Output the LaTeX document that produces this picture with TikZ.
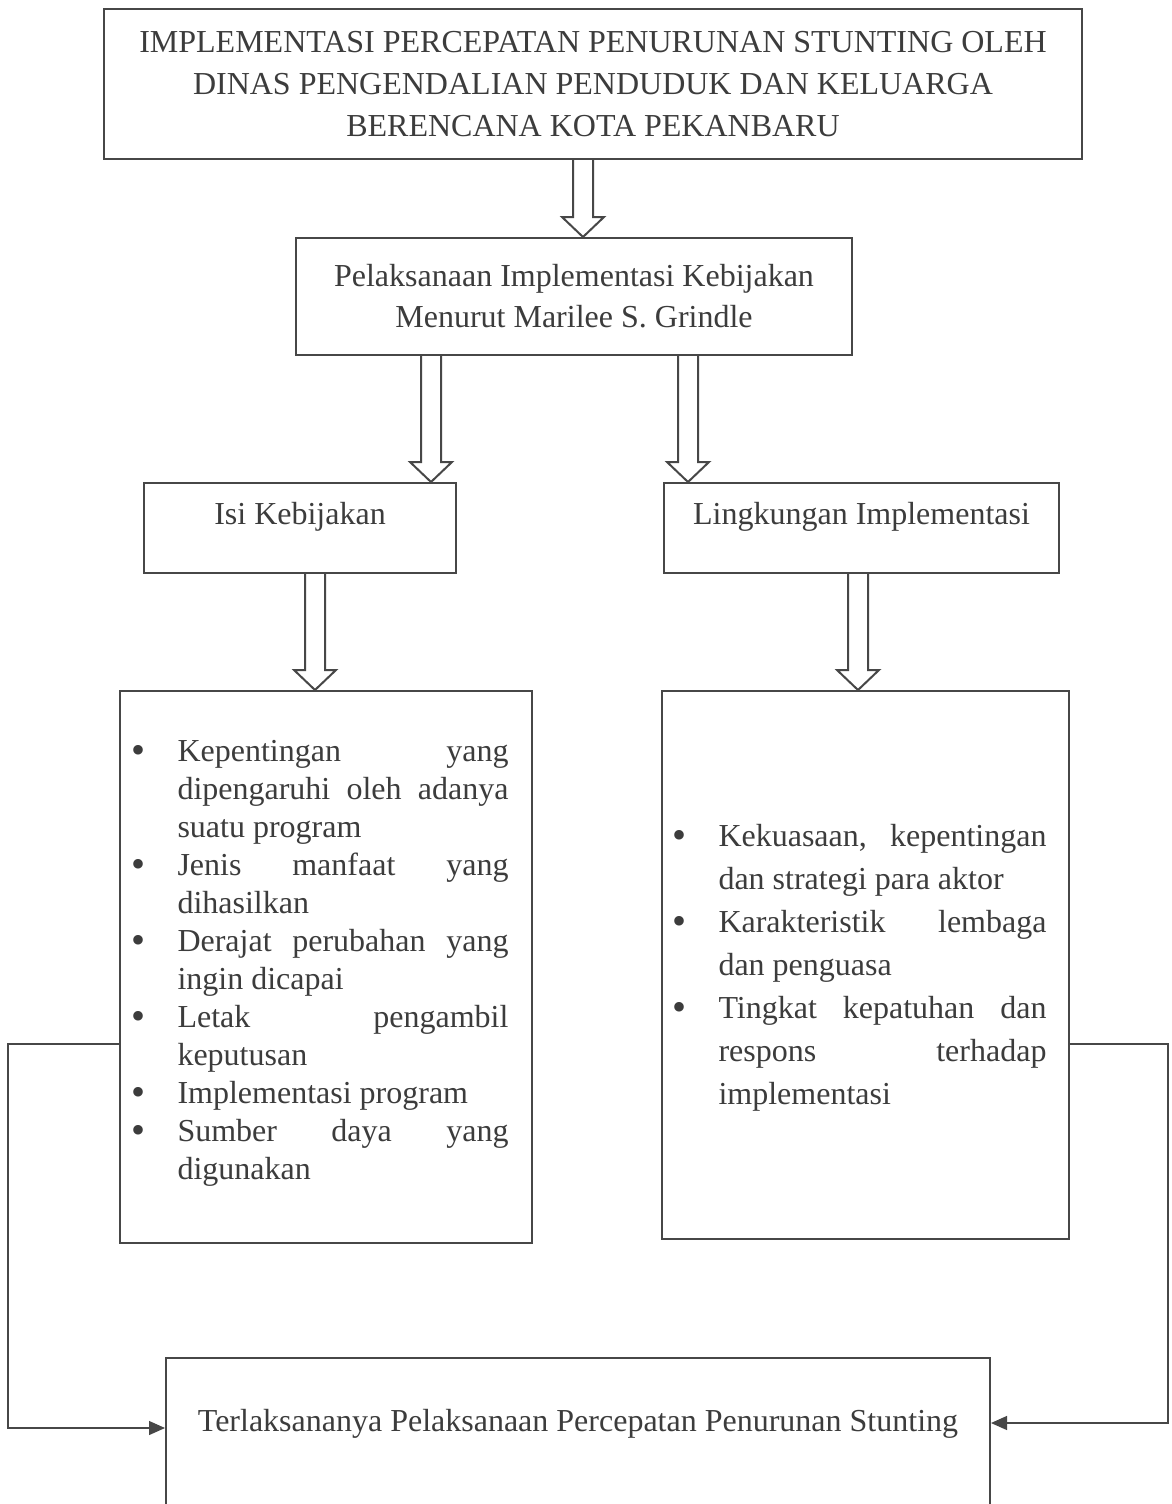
\documentclass[tikz,border=0pt]{standalone}
\usepackage{fontspec}
\setmainfont{Liberation Serif}
\usepackage{tikz}
\usetikzlibrary{calc,arrows.meta}
\definecolor{inkgray}{HTML}{3C3C3C}
\definecolor{linegray}{HTML}{474747}
\tikzset{
	box/.style = {
		shape=rectangle,
		draw=linegray,
		line width=1pt,
		text=inkgray,
		align=center,
		inner sep=0pt,
		anchor=north west,
		font=\fontsize{16pt}{21pt}\selectfont
	},
	listbox/.style = {
		box,
		align=justify,
		inner xsep=8.75pt
	},
	blockarrow/.style = {
		draw=linegray,
		line width=1pt,
		line join=miter
	},
	link/.style = {
		draw=linegray,
		line width=0.6pt
	},
	tip/.style = {
		-{Triangle[length=8pt,width=7pt]}
	}
}
% hollow block arrow: #1 start on the upper box, #2 tip on the lower box
\newcommand{\hollowarrow}[2]{%
	\draw[blockarrow] let \p1=(#1), \p2=(#2) in
		(\x1-5pt,\y1) -- (\x1-5pt,\y2+10pt) -- (\x1-10.5pt,\y2+10pt) -- (\x2,\y2)
		-- (\x1+10.5pt,\y2+10pt) -- (\x1+5pt,\y2+10pt) -- (\x1+5pt,\y1);
}
\newcommand{\bul}{\par\noindent\hangindent=23pt\hangafter=1%
	\makebox[23pt][l]{\smash{\raisebox{-1pt}{\fontsize{20pt}{0pt}\selectfont\textbullet}}}}
\newcommand{\listsetup}{\hyphenpenalty=10000\tolerance=10000\leftskip=-3pt\rightskip=3pt}
\begin{document}
\begin{tikzpicture}[x=0.5pt,y=-0.5pt]
	\fill[white] (0,0) rectangle (1172,1504);
	\useasboundingbox (0,0) rectangle (1172,1504);

	\node[box, minimum width=489pt, minimum height=75pt] (top) at (103,8)
		{IMPLEMENTASI PERCEPATAN PENURUNAN STUNTING OLEH\\
		DINAS PENGENDALIAN PENDUDUK DAN KELUARGA\\
		BERENCANA KOTA PEKANBARU};
	\node[box, minimum width=278pt, minimum height=58.5pt, font=\fontsize{16pt}{20.5pt}\selectfont] (grindle) at (295,237)
		{Pelaksanaan Implementasi Kebijakan\\Menurut Marilee S. Grindle};
	\node[box, minimum width=156pt, minimum height=45pt, text height=10pt, text depth=14pt] (isi) at (143,482)
		{Isi Kebijakan};
	\node[box, minimum width=197.5pt, minimum height=45pt, text height=10pt, text depth=14pt] (ling) at (663,482)
		{Lingkungan Implementasi};

	\node[listbox, text width=188.5pt, minimum height=276pt] (isilist) at (119,690) {%
		\fontsize{16pt}{19pt}\selectfont\listsetup
		\bul Kepentingan yang\linebreak dipengaruhi oleh adanya\linebreak suatu program
		\bul Jenis manfaat yang\linebreak dihasilkan
		\bul Derajat perubahan yang\linebreak ingin dicapai
		\bul Letak pengambil\linebreak keputusan
		\bul Implementasi program
		\bul Sumber daya yang\linebreak digunakan\par\vspace{12pt}};
	\node[listbox, text width=187pt, inner xsep=8.25pt, minimum height=274pt] (linglist) at (661,690) {%
		\fontsize{16pt}{21.5pt}\selectfont\listsetup
		\bul Kekuasaan, kepentingan\linebreak dan strategi para aktor
		\bul Karakteristik lembaga\linebreak dan penguasa
		\bul Tingkat kepatuhan dan\linebreak respons terhadap\linebreak implementasi\par\vspace{8pt}};

	\node[box, minimum width=412pt, minimum height=81.5pt, text height=10pt, text depth=18pt] (hasil) at (165,1357)
		{Terlaksananya Pelaksanaan Percepatan Penurunan Stunting};

	% arrow columns
	\coordinate (colA) at (583,0);
	\coordinate (colB) at (431,0);
	\coordinate (colC) at (688,0);
	\coordinate (colD) at (315,0);
	\coordinate (colE) at (858,0);

	\hollowarrow{top.south -| colA}{grindle.north -| colA}
	\hollowarrow{grindle.south -| colB}{isi.north -| colB}
	\hollowarrow{grindle.south -| colC}{ling.north -| colC}
	\hollowarrow{isi.south -| colD}{isilist.north -| colD}
	\hollowarrow{ling.south -| colE}{linglist.north -| colE}

	% side connectors
	\coordinate (lbend) at (8,1044);
	\coordinate (rbend) at (1168,1044);
	\coordinate (lfoot) at (8,1428);
	\coordinate (rfoot) at (1168,1423);
	\draw[link, tip] (lbend -| isilist.west) -- (lbend) -- (lfoot) -- (lfoot -| hasil.west);
	\draw[link, tip] (lbend -| linglist.east) -- (rbend) -- (rfoot) -- (rfoot -| hasil.east);
\end{tikzpicture}
\end{document}
